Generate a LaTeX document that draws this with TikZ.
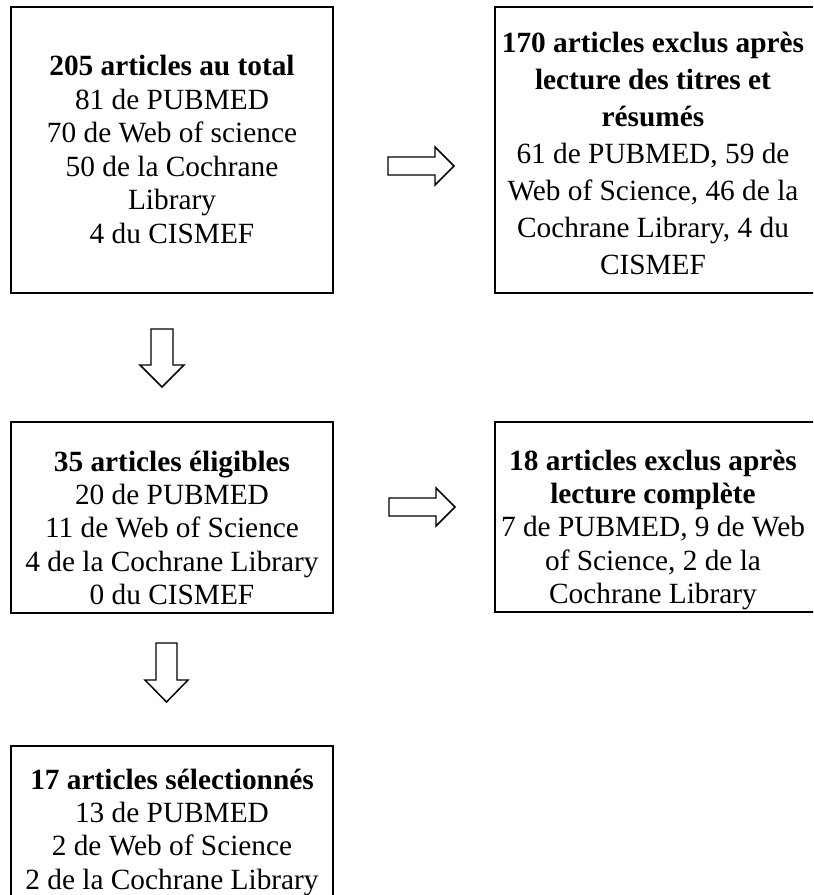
\documentclass[tikz,border=0pt]{standalone}
\usepackage{fontspec}
\setmainfont{Liberation Serif}
\usetikzlibrary{fit}
\tikzset{
  box/.style={draw=black, line width=2pt, inner sep=0pt},
  txt/.style={inner sep=0pt, anchor=base, font=\fontsize{22}{25.1}\selectfont},
  txtwide/.style={inner sep=0pt, anchor=base, font=\fontsize{22}{27.75}\selectfont},
  blockarrow/.style={draw=black, line width=1.1pt, fill=white, line join=miter},
}
\begin{document}
\begin{tikzpicture}[x=0.75pt,y=-0.75pt]
\useasboundingbox (0,0) rectangle (813,895);
\clip (0,0) rectangle (813,895);

% boxes
\node[box, fit={(11,7) (333,293)}] (b1) {};
\node[box, fit={(495,7) (822,293)}] (b2) {};
\node[box, fit={(11,422) (333,613)}] (b3) {};
\node[box, fit={(495,422) (822,612)}] (b4) {};
\node[box, fit={(11,746) (333,905)}] (b5) {};

% texts
\node[txt] (t1) at (172,76) {\begin{tabular}[t]{@{}c@{}}\textbf{205 articles au total}\\81 de PUBMED\\70 de Web of science\\50 de la Cochrane\\Library\\4 du CISMEF\end{tabular}};
\node[txtwide] (t2) at (653,53) {\begin{tabular}[t]{@{}c@{}}\textbf{170 articles exclus après}\\\textbf{lecture des titres et}\\\textbf{résumés}\\61 de PUBMED, 59 de\\Web of Science, 46 de la\\Cochrane Library, 4 du\\CISMEF\end{tabular}};
\node[txt] (t3) at (172,471) {\begin{tabular}[t]{@{}c@{}}\textbf{35 articles éligibles}\\20 de PUBMED\\11 de Web of Science\\4 de la Cochrane Library\\0 du CISMEF\end{tabular}};
\node[txt] (t4) at (653,470) {\begin{tabular}[t]{@{}c@{}}\textbf{18 articles exclus après}\\\textbf{lecture complète}\\7 de PUBMED, 9 de Web\\of Science, 2 de la\\Cochrane Library\end{tabular}};
\node[txt] (t5) at (172,789) {\begin{tabular}[t]{@{}c@{}}\textbf{17 articles sélectionnés}\\13 de PUBMED\\2 de Web of Science\\2 de la Cochrane Library\end{tabular}};

% block arrows
\draw[blockarrow] (388,157) -- (435,157) -- (435,147) -- (454,166) -- (435,185) -- (435,175) -- (388,175) -- cycle;
\draw[blockarrow] (389,498) -- (436,498) -- (436,488) -- (455,507) -- (436,526) -- (436,516) -- (389,516) -- cycle;
\draw[blockarrow] (151,329) -- (173,329) -- (173,365) -- (184,365) -- (162,387) -- (140,365) -- (151,365) -- cycle;
\draw[blockarrow] (156,643) -- (177,643) -- (177,680) -- (188,680) -- (166.5,702) -- (145,680) -- (156,680) -- cycle;
\end{tikzpicture}
\end{document}
